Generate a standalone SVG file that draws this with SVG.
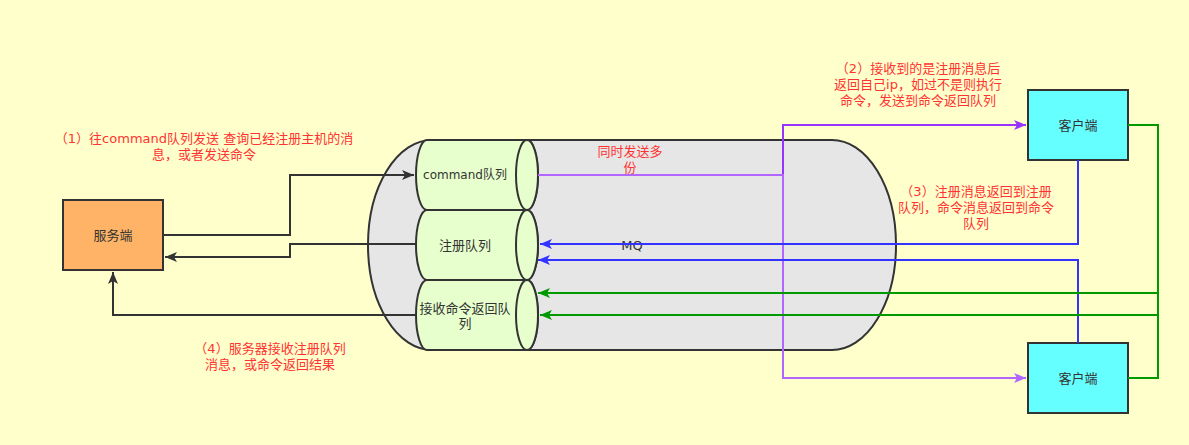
<svg xmlns="http://www.w3.org/2000/svg" width="1189" height="445" viewBox="0 0 1189 445">
<defs>
<style>
text{font-family:"DejaVu Sans","Noto Sans CJK SC",sans-serif;font-size:13px;text-anchor:middle}
.lbl{fill:#333333}
.red{fill:#FF3333}
.box{stroke:#333333;stroke-width:2}
.q{fill:#E6FFCC;stroke:#333333;stroke-width:2}
.ln{fill:none;stroke-width:2}
</style>
<marker id="aDark" viewBox="0 0 12 10" refX="12" refY="5" markerWidth="12" markerHeight="10" markerUnits="userSpaceOnUse" orient="auto"><path d="M0,0 L12,5 L0,10 L3,5 Z" fill="#333333"/></marker>
<marker id="aBlue" viewBox="0 0 12 10" refX="12" refY="5" markerWidth="12" markerHeight="10" markerUnits="userSpaceOnUse" orient="auto"><path d="M0,0 L12,5 L0,10 L3,5 Z" fill="#3333FF"/></marker>
<marker id="aGreen" viewBox="0 0 12 10" refX="12" refY="5" markerWidth="12" markerHeight="10" markerUnits="userSpaceOnUse" orient="auto"><path d="M0,0 L12,5 L0,10 L3,5 Z" fill="#009900"/></marker>
<marker id="aPurple" viewBox="0 0 12 10" refX="12" refY="5" markerWidth="12" markerHeight="10" markerUnits="userSpaceOnUse" orient="auto"><path d="M0,0 L12,5 L0,10 L3,5 Z" fill="#9933FF"/></marker>
<marker id="aLilac" viewBox="0 0 12 10" refX="12" refY="5" markerWidth="12" markerHeight="10" markerUnits="userSpaceOnUse" orient="auto"><path d="M0,0 L12,5 L0,10 L3,5 Z" fill="#B266FF"/></marker>
</defs>
<rect width="1189" height="445" fill="#FFFFCC"/>

<g id="mq">
<path d="M432,140 H832 A64,105 0 0 1 832,350 H432 A64,105 0 0 1 432,140 Z" fill="#E6E6E6" stroke="#333333" stroke-width="2"/>
<text class="lbl" x="632" y="250">MQ</text>
</g>

<g id="q-command">
<path class="q" d="M427,140 H527 A11,35 0 0 1 527,210 H427 A11,35 0 0 1 427,140 Z"/>
<ellipse class="q" cx="527" cy="175" rx="11" ry="35"/>
<text class="lbl" x="465" y="179" style="font-size:12px">command队列</text>
</g>
<g id="q-register">
<path class="q" d="M427,210 H527 A11,35 0 0 1 527,280 H427 A11,35 0 0 1 427,210 Z"/>
<ellipse class="q" cx="527" cy="245" rx="11" ry="35"/>
<text class="lbl" x="465" y="250">注册队列</text>
</g>
<g id="q-return">
<path class="q" d="M427,280 H527 A11,35 0 0 1 527,350 H427 A11,35 0 0 1 427,280 Z"/>
<ellipse class="q" cx="527" cy="315" rx="11" ry="35"/>
<text class="lbl" x="465" y="313">接收命令返回队</text>
<text class="lbl" x="465" y="328">列</text>
</g>

<g id="server">
<rect class="box" x="63" y="200" width="100" height="70" fill="#FFB366"/>
<text class="lbl" x="113" y="240">服务端</text>
</g>
<g id="client1">
<rect class="box" x="1028" y="90" width="100" height="70" fill="#66FFFF"/>
<text class="lbl" x="1078" y="130">客户端</text>
</g>
<g id="client2">
<rect class="box" x="1028" y="343" width="100" height="70" fill="#66FFFF"/>
<text class="lbl" x="1078" y="383">客户端</text>
</g>

<g id="connectors">
<path class="ln" stroke="#333333" d="M163,235 H290 V175 H414" marker-end="url(#aDark)"/>
<path class="ln" stroke="#333333" d="M416,244 H290 V257 H165" marker-end="url(#aDark)"/>
<path class="ln" stroke="#333333" d="M416,315 H113 V272" marker-end="url(#aDark)"/>
<path class="ln" stroke="#9933FF" d="M538,175 H783 V125 H1026" marker-end="url(#aPurple)"/>
<path class="ln" stroke="#B266FF" d="M538,175 H783 V378 H1026" marker-end="url(#aLilac)"/>
<path class="ln" stroke="#3333FF" d="M1078,160 V244 H540" marker-end="url(#aBlue)"/>
<path class="ln" stroke="#3333FF" d="M1078,343 V260 H538" marker-end="url(#aBlue)"/>
<path class="ln" stroke="#009900" d="M1128,125 H1158 V315 H540" marker-end="url(#aGreen)"/>
<path class="ln" stroke="#009900" d="M1128,378 H1158 V293 H538" marker-end="url(#aGreen)"/>
</g>

<g id="labels">
<text class="red" x="204" y="143">（1）往command队列发送 查询已经注册主机的消</text>
<text class="red" x="204" y="159">息，或者发送命令</text>
<text class="red" x="918" y="73">（2）接收到的是注册消息后</text>
<text class="red" x="918" y="89">返回自己ip，如过不是则执行</text>
<text class="red" x="918" y="105">命令，发送到命令返回队列</text>
<text class="red" x="976" y="196">（3）注册消息返回到注册</text>
<text class="red" x="976" y="212">队列，命令消息返回到命令</text>
<text class="red" x="976" y="228">队列</text>
<text class="red" x="270" y="353">（4）服务器接收注册队列</text>
<text class="red" x="270" y="369">消息，或命令返回结果</text>
<text class="red" x="630" y="156">同时发送多</text>
<text class="red" x="630" y="172">份</text>
</g>
</svg>
